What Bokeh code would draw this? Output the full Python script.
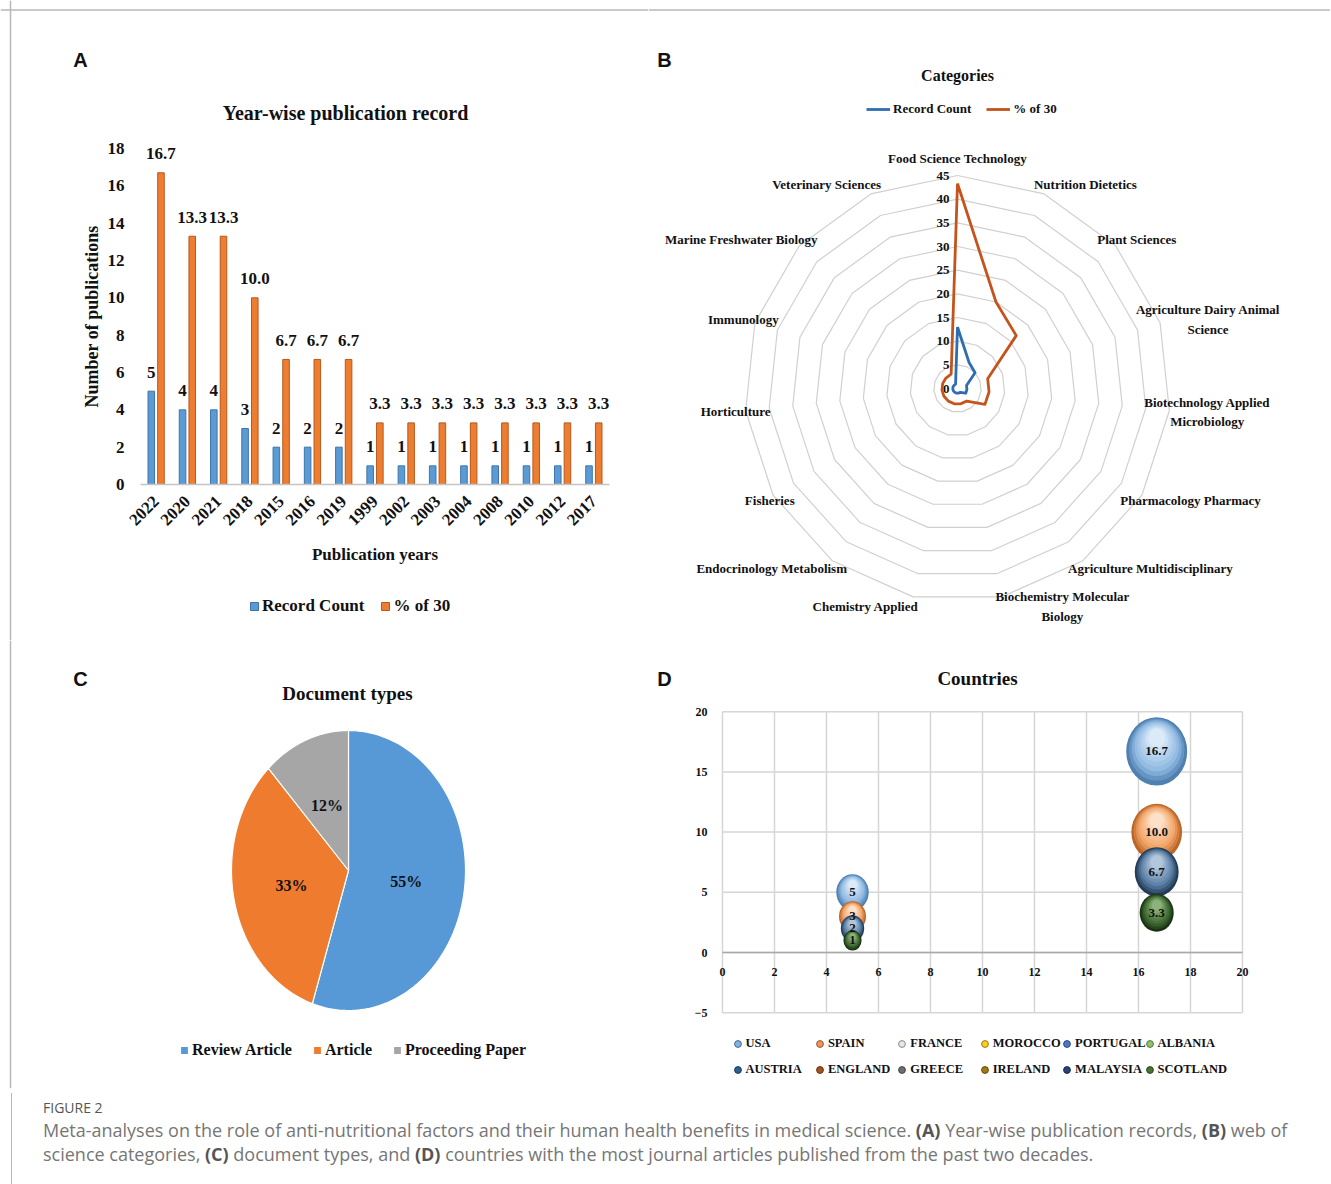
import math
import numpy as np
from bokeh.plotting import figure
from bokeh.models import (ColumnDataSource, Range1d, FixedTicker, Label, Legend, LegendItem,
                          Div, Span)
from bokeh.layouts import column, row
from bokeh.core.properties import value
from bokeh.embed import file_html
from bokeh.resources import INLINE

SERIF = "Liberation Serif"
TXT = "#111111"
BORDER = "#b8b8b8"

# ---------------- data ----------------
years = ["2022", "2020", "2021", "2018", "2015", "2016", "2019", "1999",
         "2002", "2003", "2004", "2008", "2010", "2012", "2017"]
record_count = [5, 4, 4, 3, 2, 2, 2, 1, 1, 1, 1, 1, 1, 1, 1]
pct_of_30 = [16.7, 13.3, 13.3, 10.0, 6.7, 6.7, 6.7, 3.3, 3.3, 3.3, 3.3, 3.3, 3.3, 3.3, 3.3]
year_ticks = [0, 2, 4, 6, 8, 10, 12, 14, 16, 18]

categories = ["Food Science Technology", "Nutrition Dietetics", "Plant Sciences",
              "Agriculture Dairy Animal\nScience", "Biotechnology Applied\nMicrobiology",
              "Pharmacology Pharmacy", "Agriculture Multidisciplinary",
              "Biochemistry Molecular\nBiology", "Chemistry Applied",
              "Endocrinology Metabolism", "Fisheries", "Horticulture", "Immunology",
              "Marine Freshwater Biology", "Veterinary Sciences"]
cat_count = [13, 6, 5, 2, 2, 2, 1, 1, 1, 1, 1, 1, 1, 1, 1]
cat_pct = [43.3, 20.0, 16.7, 6.7, 6.7, 6.7, 3.3, 3.3, 3.3, 3.3, 3.3, 3.3, 3.3, 3.3, 3.3]
radar_ticks = [0, 5, 10, 15, 20, 25, 30, 35, 40, 45]

doc_types = ["Review Article", "Article", "Proceeding Paper"]
doc_share = [55, 33, 12]

countries = ["USA", "SPAIN", "FRANCE", "MOROCCO", "PORTUGAL", "ALBANIA",
             "AUSTRIA", "ENGLAND", "GREECE", "IRELAND", "MALAYSIA", "SCOTLAND"]
bubble_countries = ["USA", "SPAIN", "AUSTRIA", "SCOTLAND"]
bubble_count_x = [5, 5, 5, 5]
bubble_counts = [5, 3, 2, 1]
bubble_pct_x = [16.7, 16.7, 16.7, 16.7]
bubble_pcts = [16.7, 10.0, 6.7, 3.3]
country_x_ticks = [0, 2, 4, 6, 8, 10, 12, 14, 16, 18, 20]
country_y_ticks = [-5, 0, 5, 10, 15, 20]

# ---------------- styles ----------------
BLUE, BLUE_E = "#5b9bd5", "#3f74a8"
ORANGE, ORANGE_E = "#ed7d31", "#b8581c"
legend_colors = {"USA": "#7fb2e3", "SPAIN": "#f0955a", "FRANCE": "#e6e6e6", "MOROCCO": "#ffcc22",
                 "PORTUGAL": "#4a78c9", "ALBANIA": "#8fc46a", "AUSTRIA": "#2f5f8f",
                 "ENGLAND": "#a4531d", "GREECE": "#6e6e6e", "IRELAND": "#a07c12",
                 "MALAYSIA": "#2a4478", "SCOTLAND": "#4b7434"}
bubble_pal = {"USA": ("#4f80b0", "#8fb9e2", "#dbeaf8"),
              "SPAIN": ("#bb6529", "#f2a466", "#fde0c8"),
              "AUSTRIA": ("#243c57", "#5a7ea6", "#b3c7dc"),
              "SCOTLAND": ("#1a3214", "#3f6b32", "#8db27b")}

# page geometry (the page starts at 0,0): row 1 is 0..640, row 2 is 640..1088
W1, W2 = 648, 682
H1, H2 = 640, 448


def fig(w, h, xr, yr, axes=False):
    f = figure(width=w, height=h, x_range=Range1d(*xr), y_range=Range1d(*yr),
               output_backend="svg", toolbar_location=None, min_border=0)
    f.background_fill_color = "white"
    f.border_fill_color = "white"
    f.outline_line_color = None
    f.grid.visible = False
    if not axes:
        f.axis.visible = False
    return f


def add_label(plot, x, y, text, size, font=SERIF, align="center", baseline="middle",
              color=TXT, style="bold"):
    plot.add_layout(Label(x=x, y=y, text=text, text_font=font, text_font_style=style,
                          text_font_size=size, text_align=align, text_baseline=baseline,
                          text_color=color))


def style_axis(ax, size):
    ax.major_tick_line_color = None
    ax.minor_tick_line_color = None
    ax.major_label_text_font = SERIF
    ax.major_label_text_font_style = "bold"
    ax.major_label_text_font_size = size
    ax.major_label_text_color = TXT
    ax.axis_label_text_font = SERIF
    ax.axis_label_text_font_style = "bold"
    ax.axis_label_text_color = TXT


def leg(items, loc, **kw):
    base = dict(location=loc, orientation="horizontal", padding=0, margin=0,
                border_line_color=None, background_fill_alpha=0, label_text_font=SERIF,
                label_text_font_style="bold", label_text_color=TXT)
    base.update(kw)
    return Legend(items=items, **base)


# ================= Panel A =================
AX, AY, ASX, ASY = 140.0, 484.0, 469 / 15.0, 336 / 18.0


def a_pt(px, py):
    return (px - AX) / ASX, (AY - py) / ASY


pA = fig(W1, H1, ((0 - AX) / ASX, (W1 - AX) / ASX), ((AY - H1) / ASY, AY / ASY), axes=True)
xc = [i + 0.5 for i in range(len(years))]
srcA = ColumnDataSource(dict(xb=[x - 0.155 for x in xc], xo=[x + 0.155 for x in xc],
                             count=record_count, pct=pct_of_30,
                             count_lbl=[str(v) for v in record_count],
                             pct_lbl=[f"{v:.1f}" for v in pct_of_30]))
rA1 = pA.vbar(x="xb", top="count", width=0.21, source=srcA,
              fill_color=BLUE, line_color=BLUE_E, line_width=1)
rA2 = pA.vbar(x="xo", top="pct", width=0.21, source=srcA,
              fill_color=ORANGE, line_color=ORANGE_E, line_width=1)
for xcol, col, lbl in [("xb", "count", "count_lbl"), ("xo", "pct", "pct_lbl")]:
    pA.text(x=xcol, y=col, text=lbl, source=srcA, text_align="center",
            text_baseline="alphabetic", y_offset=-19, text_font=value(SERIF),
            text_font_style="bold", text_font_size="17px", text_color=TXT)
ya = pA.yaxis[0]
ya.fixed_location = 0
ya.bounds = (0, 18)
ya.ticker = FixedTicker(ticks=year_ticks)
ya.axis_line_color = None
style_axis(ya, "17px")
ya.major_label_standoff = 10
ya.axis_label = "Number of publications"
ya.axis_label_text_font_size = "18px"
ya.axis_label_standoff = 3
xa = pA.xaxis[0]
xa.fixed_location = 0
xa.bounds = (0, len(years))
xa.ticker = FixedTicker(ticks=xc)
xa.major_label_overrides = {x: y for x, y in zip(xc, years)}
xa.axis_line_color = "#c4c4c4"
xa.axis_line_width = 1.5
style_axis(xa, "17px")
xa.major_label_orientation = math.pi / 4
xa.major_label_standoff = 8
xa.axis_label = "Publication years"
xa.axis_label_text_font_size = "17px"
xa.axis_label_standoff = 12
add_label(pA, *a_pt(345, 112), "Year-wise publication record", "20px")
add_label(pA, *a_pt(80, 59), "A", "20px", font="Liberation Sans")
pA.add_layout(leg([LegendItem(label="Record Count", renderers=[rA1]),
                   LegendItem(label="% of 30", renderers=[rA2])], (249, 24),
                  glyph_width=10, glyph_height=10, label_standoff=3, spacing=16,
                  label_text_font_size="17px"))
pA.add_layout(Span(location=a_pt(0, 9.5)[1], dimension="width", line_color=BORDER, line_width=1.5))
pA.add_layout(Span(location=a_pt(10, 0)[0], dimension="height", line_color=BORDER, line_width=1.5))

# ================= Panel B (radar) =================
S = 213 / 45.0
BCX, BCY = 957.0, 388.0


def b_pt(px, py):
    return (px - BCX) / S, (BCY - py) / S


pB = fig(W2, H1, ((W1 - BCX) / S, (W1 + W2 - BCX) / S), ((BCY - H1) / S, BCY / S))
n = len(categories)
th = np.array([2 * math.pi * i / n for i in range(n)])
tc = np.append(th, th[0])
ring_xs = [list(r * np.sin(tc)) for r in radar_ticks[1:]]
ring_ys = [list(r * np.cos(tc)) for r in radar_ticks[1:]]
pB.multi_line(ring_xs, ring_ys, line_color="#d0d0d0", line_width=1.2)


def closed(vals):
    v = np.array(vals + vals[:1], dtype=float)
    return list(v * np.sin(tc)), list(v * np.cos(tc))


bx, by = closed(cat_count)
ox, oy = closed(cat_pct)
rB1 = pB.line(bx, by, line_color="#2f6db3", line_width=2.8, line_join="round")
rB2 = pB.line(ox, oy, line_color="#c4541b", line_width=2.8, line_join="round")
pB.text(x=[0] * len(radar_ticks), y=radar_ticks, text=[str(t) for t in radar_ticks],
        x_offset=-8, text_align="right", text_baseline="middle", text_font=value(SERIF),
        text_font_style="bold", text_font_size="13px", text_color=TXT)
FS = 13
for i, cat in enumerate(categories):
    s, c = math.sin(th[i]), math.cos(th[i])
    inner = 188 / S * s
    y = 223 / S * c
    lines = cat.split("\n")
    if abs(s) < 1e-6:
        x, align, base = 0.0, "center", "bottom"
    elif len(lines) > 1:
        w = 0.46 * FS * max(len(l) for l in lines) / S
        x = inner + (w / 2 if s > 0 else -w / 2)
        align, base = "center", "middle"
    else:
        x, align, base = inner, ("left" if s > 0 else "right"), "middle"
    pB.text(x=[x], y=[y], text=[cat], text_align=align, text_baseline=base,
            text_font=value(SERIF), text_font_style="bold", text_font_size=f"{FS}px",
            text_line_height=1.3, text_color=TXT)
add_label(pB, *b_pt(957, 75), "Categories", "16px")
add_label(pB, *b_pt(664, 59), "B", "20px", font="Liberation Sans")
pB.add_layout(leg([LegendItem(label="Record Count", renderers=[rB1]),
                   LegendItem(label="% of 30", renderers=[rB2])], (218, 523),
                  glyph_width=24, glyph_height=14, label_standoff=3, spacing=15,
                  label_text_font_size="13px", label_height=14))
pB.add_layout(Span(location=b_pt(0, 9.5)[1], dimension="width", line_color=BORDER, line_width=1.5))

# ================= Panel C (pie) =================
RX, RY = 117.0, 140.0
CCX, CCY = 348.0, 870.0


def c_pt(px, py):
    return (px - CCX) / RX, (CCY - py) / RY


pC = fig(W1, H2, ((0 - CCX) / RX, (W1 - CCX) / RX), ((CCY - H1 - H2) / RY, (CCY - H1) / RY))
pie_colors = ["#5798d7", "#ef7b2f", "#a6a6a6"]
frac = np.array(doc_share, dtype=float) / sum(doc_share)
ends = np.cumsum(frac) * 2 * math.pi
starts = ends - frac * 2 * math.pi
pxs, pys, lx, ly = [], [], [], []
for a0, a1 in zip(starts, ends):
    t = np.linspace(a0, a1, 120)
    pxs.append([0.0] + list(np.sin(t)))
    pys.append([0.0] + list(np.cos(t)))
    m = (a0 + a1) / 2
    lx.append(0.5 * math.sin(m))
    ly.append(0.5 * math.cos(m))
slice_r = [pC.patch(pxs[i], pys[i], fill_color=pie_colors[i], line_color="white",
                    line_width=1.2) for i in range(len(doc_types))]
pC.text(x=lx, y=ly, text=[f"{v}%" for v in doc_share], text_align="center",
        text_baseline="middle", text_font=value(SERIF), text_font_style="bold",
        text_font_size="16px", text_color=TXT)
add_label(pC, *c_pt(347, 693), "Document types", "19px")
add_label(pC, *c_pt(80, 678), "C", "20px", font="Liberation Sans")
pC.add_layout(leg([LegendItem(label=doc_types[i], renderers=[slice_r[i]]) for i in range(3)],
                  (179, 29), glyph_width=10, glyph_height=10, label_standoff=3, spacing=20,
                  label_text_font_size="16px"))
pC.add_layout(Span(location=c_pt(10, 0)[0], dimension="height", line_color=BORDER, line_width=1.5))

# ================= Panel D (bubbles) =================
DX, DY, DSX, DSY = 722.0, 952.0, 26.0, 301 / 25.0


def d_pt(px, py):
    return (px - DX) / DSX, (DY - py) / DSY


pD = fig(W2, H2, ((W1 - DX) / DSX, (W1 + W2 - DX) / DSX), ((DY - H1 - H2) / DSY, (DY - H1) / DSY),
         axes=True)
x0, x1 = country_x_ticks[0], country_x_ticks[-1]
y0, y1 = country_y_ticks[0], country_y_ticks[-1]
gx = [[v, v] for v in country_x_ticks] + [[x0, x1] for v in country_y_ticks]
gy = [[y0, y1] for v in country_x_ticks] + [[v, v] for v in country_y_ticks]
pD.multi_line(gx, gy, line_color="#d6d6d6", line_width=1.5)
yd = pD.yaxis[0]
yd.fixed_location = 0
yd.bounds = (y0, y1)
yd.ticker = FixedTicker(ticks=country_y_ticks)
yd.axis_line_color = None
style_axis(yd, "12px")
yd.major_label_standoff = 9
xd = pD.xaxis[0]
xd.fixed_location = 0
xd.bounds = (x0, x1)
xd.ticker = FixedTicker(ticks=country_x_ticks)
xd.axis_line_color = "#a8a8a8"
xd.axis_line_width = 1.5
style_axis(xd, "12px")
xd.major_label_standoff = 9


def mix(c1, c2, f):
    a = [int(c1[i:i + 2], 16) for i in (1, 3, 5)]
    b = [int(c2[i:i + 2], 16) for i in (1, 3, 5)]
    return "#" + "".join(f"{int(round(a[k] + (b[k] - a[k]) * f)):02x}" for k in range(3))


NL = 9
for xs_, vals, base_r, fmt in [(bubble_count_x, bubble_counts, 16.2, "{:d}"),
                               (bubble_pct_x, bubble_pcts, 30.5, "{:.1f}")]:
    vmax = max(vals)
    for ctry, xv, v in zip(bubble_countries, xs_, vals):
        rx = base_r * (v / vmax) ** 0.36
        ry = rx * 1.12
        edge, main, light = bubble_pal[ctry]
        for k in range(NL):
            f = k / (NL - 1)
            sc = 1.0 - 0.72 * f
            colr = mix(edge, main, min(1.0, f * 3)) if f < 0.34 else mix(main, light, (f - 0.34) / 0.66)
            shift = (1 - sc) * ry * 0.55 / DSY
            pD.ellipse(x=[xv], y=[v + shift], width=[2 * rx * sc], height=[2 * ry * sc],
                       width_units="screen", height_units="screen", fill_color=colr,
                       line_color=None)
    pD.text(x=xs_, y=vals, text=[fmt.format(v) for v in vals],
            text_align="center", text_baseline="middle", text_font=value(SERIF),
            text_font_style="bold", text_font_size="13px", text_color=TXT)
add_label(pD, *d_pt(977, 678), "Countries", "19px")
add_label(pD, *d_pt(664, 678), "D", "20px", font="Liberation Sans")
for j, ctry in enumerate(countries):
    rr = pD.scatter(x=[float("nan")], y=[float("nan")], marker="circle", size=7,
                    fill_color=legend_colors[ctry],
                    line_color=mix(legend_colors[ctry], "#000000", 0.4), line_width=1)
    col, rw = j % 6, j // 6
    pD.add_layout(leg([LegendItem(label=ctry, renderers=[rr])],
                      (80.5 + col * 82.4, 36.5 - rw * 26), glyph_width=17, glyph_height=17,
                      label_standoff=0, label_text_font_size="12.5px", label_height=17))

# ================= Caption =================
B = '<b style="color:#555;font-weight:700">'
caption = ('<div style="font-family:\'Open Sans\',sans-serif;border-left:1.5px solid ' + BORDER +
           ';margin-left:5.5px;height:92px;box-sizing:border-box;padding:6px 0 0 31.5px;">'
           '<div style="font-size:14px;color:#555;line-height:18px;">FIGURE 2</div>'
           '<div style="font-size:18px;color:#767676;line-height:24px;margin-top:1px;'
           'white-space:nowrap;">'
           'Meta-analyses on the role of anti-nutritional factors and their human health benefits '
           'in medical science. ' + B + '(A)</b> Year-wise publication records, ' + B +
           '(B)</b> web of<br>science categories, ' + B + '(C)</b> document types, and ' + B +
           '(D)</b> countries with the most journal articles published from the past two '
           'decades.</div></div>')
cap = Div(text=caption, width=W1 + W2, height=92)

layout = column(row(pA, pB), row(pC, pD), cap)
open("out.html", "w").write(file_html(layout, INLINE))
